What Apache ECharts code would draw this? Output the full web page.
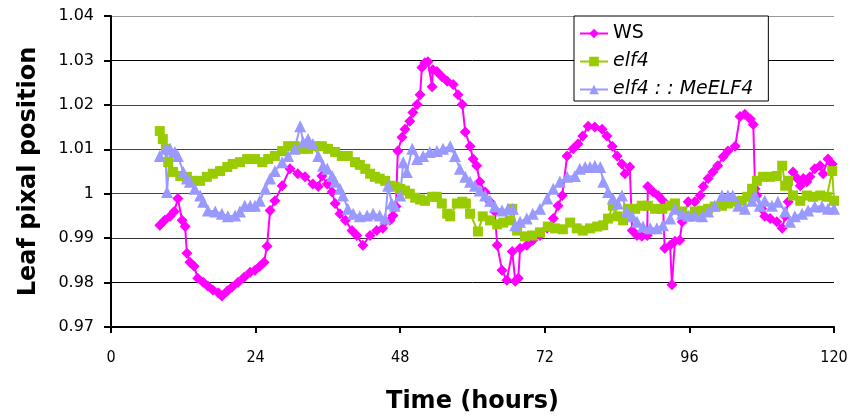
<!DOCTYPE html>
<html lang="en">
<head>
    <meta charset="UTF-8">
    <title>Leaf pixal position</title>
    <script type="text/javascript" src="https://cdn.jsdelivr.net/npm/echarts@6/dist/echarts.min.js"></script>
    <style>
        html, body { margin: 0; padding: 0; background: #fff; }
    </style>
</head>
<body>
    <div id="container" style="width:853px;height:419px"></div>

    <script type="text/javascript">
        // series names
        var names = ['WS', 'elf4', 'elf4 : : MeELF4'];

        // [time (hours), leaf pixal position]
        var wsData = [
            [8.1,0.9929],[8.9,0.9940],[9.8,0.9949],[10.5,0.9960],[11.1,0.9989],[11.8,0.9940],[12.3,0.9926],
            [12.6,0.9866],[13.1,0.9846],[13.8,0.9837],[14.4,0.9810],[15.3,0.9801],[16.1,0.9792],[16.9,0.9783],
            [17.8,0.9777],[18.4,0.9770],[19.3,0.9781],[20.1,0.9790],[21.1,0.9801],[22.1,0.9812],[23.1,0.9823],
            [23.9,0.9828],[24.7,0.9837],[25.4,0.9846],[25.9,0.9882],[26.4,0.9962],[27.2,0.9984],[28.4,1.0018],
            [29.7,1.0056],[31.0,1.0045],[32.2,1.0038],[33.5,1.0022],[34.4,1.0016],[35.0,1.0040],[35.9,1.0022],
            [36.7,1.0004],[37.2,0.9978],[38.0,0.9955],[38.9,0.9940],[40.0,0.9917],[40.8,0.9906],[41.8,0.9884],
            [43.0,0.9906],[44.1,0.9917],[45.1,0.9922],[46.3,0.9940],[46.8,0.9951],[47.3,0.9971],[47.6,1.0096],
            [48.3,1.0127],[48.8,1.0145],[49.6,1.0163],[50.1,1.0183],[50.8,1.0201],[51.3,1.0223],[51.6,1.0284],
            [52.1,1.0295],[52.6,1.0297],[53.3,1.0241],[53.4,1.0279],[54.1,1.0275],[54.9,1.0264],[55.8,1.0253],
            [56.8,1.0246],[57.6,1.0223],[58.3,1.0201],[58.8,1.0139],[59.6,1.0107],[60.1,1.0078],[60.7,1.0063],
            [61.2,1.0027],[62.1,1.0004],[62.9,0.9982],[63.7,0.9960],[64.1,0.9884],[64.9,0.9828],[65.7,0.9805],
            [66.6,0.9870],[67.1,0.9803],[67.6,0.9810],[67.9,0.9877],[69.0,0.9884],[70.0,0.9895],[71.2,0.9906],
            [72.4,0.9922],[73.4,0.9944],[74.2,0.9973],[74.9,0.9996],[75.7,1.0085],[76.7,1.0101],[77.5,1.0112],
            [78.3,1.0130],[79.2,1.0152],[80.3,1.0150],[81.5,1.0145],[82.3,1.0130],[83.2,1.0107],[84.0,1.0085],
            [84.8,1.0067],[85.3,1.0045],[86.1,1.0060],[86.5,0.9917],[87.3,0.9906],[88.1,0.9904],[89.0,0.9906],
            [89.1,1.0016],[90.0,1.0004],[90.8,0.9996],[91.6,0.9984],[91.9,0.9877],[92.8,0.9884],[93.1,0.9795],
            [93.6,0.9893],[94.4,0.9895],[94.8,0.9937],[95.8,0.9982],[96.9,0.9982],[97.8,0.9996],[98.3,1.0016],
            [99.1,1.0034],[99.9,1.0049],[100.7,1.0063],[101.6,1.0083],[102.4,1.0096],[103.6,1.0107],[104.4,1.0174],
            [105.2,1.0179],[106.1,1.0168],[106.6,1.0156],[106.9,1.0011],[107.2,0.9996],[108.0,0.9966],[108.5,0.9949],
            [109.4,0.9944],[110.5,0.9937],[111.4,0.9922],[111.9,0.9949],[112.4,0.9982],[113.2,1.0049],[113.9,1.0034],
            [114.4,1.0018],[114.9,1.0034],[115.5,1.0027],[116.0,1.0038],[116.8,1.0056],[117.7,1.0063],[118.2,1.0045],
            [119.0,1.0078],[119.7,1.0067]
        ];

        var elf4Data = [
            [8.1,1.0141],[8.6,1.0123],[9.1,1.0101],[9.5,1.0071],[10.3,1.0049],[11.5,1.0040],[12.6,1.0038],
            [13.6,1.0029],[14.8,1.0029],[15.9,1.0038],[16.9,1.0045],[18.1,1.0051],[19.3,1.0060],[20.2,1.0067],
            [21.4,1.0071],[22.6,1.0078],[23.9,1.0078],[25.1,1.0071],[26.1,1.0078],[27.2,1.0085],[28.4,1.0096],
            [29.4,1.0107],[30.5,1.0107],[31.7,1.0101],[32.7,1.0101],[33.9,1.0107],[35.0,1.0107],[36.0,1.0101],
            [37.2,1.0094],[38.3,1.0085],[39.3,1.0085],[40.5,1.0071],[41.3,1.0065],[42.2,1.0056],[43.0,1.0045],
            [43.8,1.0038],[44.6,1.0034],[45.5,1.0029],[46.3,1.0018],[47.1,1.0016],[48.0,1.0011],[48.8,1.0007],
            [49.6,1.0000],[50.5,0.9991],[51.3,0.9987],[52.1,0.9984],[53.3,0.9993],[54.1,0.9993],[54.9,0.9978],
            [55.8,0.9955],[56.3,0.9949],[57.4,0.9978],[58.3,0.9982],[58.9,0.9978],[59.6,0.9955],[60.9,0.9915],
            [61.7,0.9949],[62.9,0.9940],[64.1,0.9931],[65.1,0.9935],[66.2,0.9940],[66.6,0.9966],[67.4,0.9917],
            [68.7,0.9904],[69.9,0.9906],[71.2,0.9913],[72.5,0.9926],[73.7,0.9922],[75.0,0.9920],[76.2,0.9935],
            [77.3,0.9922],[78.3,0.9917],[79.5,0.9922],[80.7,0.9926],[81.7,0.9929],[82.5,0.9944],[83.3,0.9973],
            [84.1,0.9949],[85.0,0.9940],[85.8,0.9966],[87.0,0.9966],[88.1,0.9973],[89.1,0.9973],[90.3,0.9966],
            [91.5,0.9966],[92.8,0.9973],[93.6,0.9978],[94.8,0.9960],[95.8,0.9949],[96.9,0.9960],[98.1,0.9962],
            [99.1,0.9966],[100.2,0.9971],[101.4,0.9973],[102.4,0.9978],[103.6,0.9982],[104.7,0.9984],[105.6,0.9993],
            [106.4,1.0011],[107.2,1.0029],[108.2,1.0038],[109.4,1.0038],[110.5,1.0040],[111.4,1.0063],[111.9,1.0018],
            [112.4,1.0029],[113.2,0.9996],[114.4,0.9984],[115.5,0.9996],[116.5,0.9993],[117.7,0.9996],[118.8,0.9993],
            [119.7,1.0051],[120.0,0.9984]
        ];

        var meelf4Data = [
            [8.1,1.0085],[9.0,1.0101],[9.3,1.0004],[9.8,1.0101],[10.6,1.0094],[11.1,1.0085],[12.0,1.0049],
            [12.6,1.0034],[13.1,1.0027],[13.9,1.0011],[14.8,0.9996],[15.3,0.9982],[16.1,0.9962],[17.3,0.9960],
            [18.4,0.9955],[19.4,0.9949],[20.6,0.9951],[21.4,0.9960],[22.2,0.9973],[23.1,0.9973],[23.9,0.9973],
            [24.7,0.9984],[25.6,1.0011],[26.4,1.0034],[27.2,1.0051],[28.4,1.0071],[29.4,1.0085],[30.5,1.0101],
            [31.4,1.0152],[31.9,1.0116],[32.7,1.0123],[33.5,1.0112],[34.4,1.0085],[35.2,1.0063],[35.9,1.0056],
            [36.7,1.0040],[37.2,1.0027],[38.0,1.0011],[38.5,0.9996],[39.3,0.9966],[40.2,0.9955],[41.3,0.9949],
            [42.5,0.9951],[43.5,0.9955],[44.6,0.9951],[45.5,0.9944],[46.0,1.0018],[46.6,0.9978],[47.1,0.9973],
            [48.0,0.9996],[48.5,1.0071],[49.1,1.0049],[50.0,1.0101],[50.8,1.0078],[51.8,1.0085],[52.9,1.0094],
            [54.1,1.0096],[55.1,1.0101],[56.3,1.0107],[57.1,1.0085],[57.9,1.0056],[58.8,1.0038],[59.6,1.0027],
            [60.4,1.0018],[61.2,1.0007],[62.1,0.9996],[62.9,0.9984],[63.7,0.9971],[64.9,0.9962],[65.9,0.9966],
            [66.7,0.9966],[67.1,0.9929],[67.9,0.9937],[69.0,0.9944],[70.0,0.9955],[71.2,0.9966],[72.4,0.9989],
            [73.4,1.0011],[74.5,1.0027],[75.7,1.0038],[77.0,1.0040],[77.8,1.0056],[78.7,1.0060],[79.5,1.0060],
            [80.3,1.0063],[81.2,1.0060],[81.7,1.0027],[82.5,1.0004],[83.3,0.9989],[84.1,0.9978],[84.8,0.9996],
            [85.6,0.9960],[86.5,0.9949],[87.3,0.9937],[88.3,0.9926],[89.5,0.9922],[90.6,0.9922],[91.6,0.9929],
            [92.8,0.9944],[93.6,0.9966],[94.8,0.9955],[95.8,0.9951],[96.9,0.9951],[98.1,0.9949],[99.1,0.9960],
            [100.2,0.9973],[101.4,0.9996],[102.4,0.9996],[103.2,0.9996],[104.1,0.9973],[105.2,0.9966],[106.4,0.9984],
            [106.9,0.9996],[107.7,0.9973],[108.5,0.9984],[109.7,0.9973],[110.7,0.9982],[111.9,0.9960],[112.7,0.9937],
            [113.5,0.9949],[114.7,0.9955],[115.7,0.9962],[116.8,0.9971],[118.0,0.9971],[119.0,0.9966],[120.0,0.9966]
        ];

        var dom = document.getElementById("container");
        var myChart = echarts.init(dom);
        var option = null;

        option = {
            animation: false,
            backgroundColor: '#fff',
            grid: {
                left: 111,
                right: 19,
                top: 16,
                bottom: 90
            },
            legend: {
                orient: 'vertical',
                left: 574,
                top: 16,
                padding: [8, 15, 2, 5],
                itemGap: 9,
                itemWidth: 28,
                itemHeight: 12,
                backgroundColor: '#fff',
                borderColor: '#000',
                borderWidth: 1,
                textStyle: {
                    fontFamily: '"DejaVu Sans", Verdana, sans-serif',
                    fontSize: 19,
                    lineHeight: 19,
                    color: '#000'
                },
                data: [
                    { name: names[0] },
                    { name: names[1], textStyle: { fontStyle: 'italic' } },
                    { name: names[2], textStyle: { fontStyle: 'italic' } }
                ]
            },
            xAxis: {
                type: 'value',
                min: 0,
                max: 120,
                interval: 24,
                name: 'Time (hours)',
                nameLocation: 'middle',
                nameGap: 63,
                nameTextStyle: {
                    fontFamily: '"DejaVu Sans", Verdana, sans-serif',
                    fontWeight: 'bold',
                    fontSize: 24,
                    color: '#000'
                },
                axisLine: { lineStyle: { color: '#000', width: 2 } },
                axisTick: { show: true, length: 6, lineStyle: { color: '#000', width: 2 } },
                axisLabel: {
                    margin: 23,
                    fontFamily: '"DejaVu Sans Condensed", "Liberation Sans Narrow", "DejaVu Sans", sans-serif',
                    fontSize: 16,
                    color: '#000'
                },
                splitLine: { show: false }
            },
            yAxis: {
                type: 'value',
                min: 0.97,
                max: 1.04,
                interval: 0.01,
                name: 'Leaf pixal position',
                nameLocation: 'middle',
                nameGap: 70,
                nameTextStyle: {
                    fontFamily: '"DejaVu Sans", Verdana, sans-serif',
                    fontWeight: 'bold',
                    fontSize: 24,
                    color: '#000'
                },
                axisLine: { show: true, lineStyle: { color: '#000', width: 2 } },
                axisTick: { show: true, length: 7, lineStyle: { color: '#000', width: 2 } },
                axisLabel: {
                    margin: 17,
                    fontFamily: '"DejaVu Sans", Verdana, sans-serif',
                    fontSize: 16,
                    color: '#000',
                    formatter: function (v) {
                        return String(Math.round(v * 100) / 100);
                    }
                },
                splitLine: {
                    show: true,
                    lineStyle: {
                        color: ['#000', '#000', '#333', '#444', '#444', '#444', '#000', '#999'],
                        width: 1
                    }
                }
            },
            series: [
                {
                    name: names[0],
                    type: 'line',
                    data: wsData,
                    symbol: 'diamond',
                    symbolSize: 11,
                    color: '#ff00ff',
                    lineStyle: { width: 2 }
                },
                {
                    name: names[1],
                    type: 'line',
                    data: elf4Data,
                    symbol: 'rect',
                    symbolSize: 10,
                    color: '#99cc00',
                    lineStyle: { width: 2 }
                },
                {
                    name: names[2],
                    type: 'line',
                    data: meelf4Data,
                    symbol: 'triangle',
                    symbolSize: 12,
                    color: '#9999ff',
                    lineStyle: { width: 2 }
                }
            ]
        };

        if (option && typeof option === "object") {
            myChart.setOption(option, true);
        }
    </script>
</body>
</html>
